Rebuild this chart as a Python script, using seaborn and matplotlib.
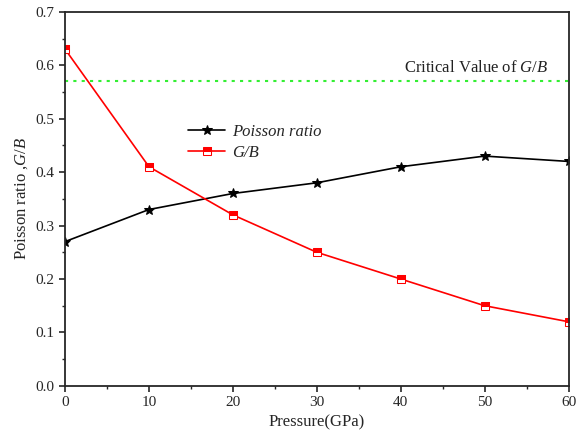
import numpy as np
import pandas as pd
import matplotlib
matplotlib.use('Agg')
import matplotlib.pyplot as plt
from matplotlib.ticker import MultipleLocator, FormatStrFormatter
import seaborn as sns

pressure = [0, 10, 20, 30, 40, 50, 60]
poisson = [0.27, 0.33, 0.36, 0.38, 0.41, 0.43, 0.42]
gb = [0.63, 0.41, 0.32, 0.25, 0.20, 0.15, 0.12]
critical = 0.57

df = pd.DataFrame({'Pressure': pressure, 'Poisson': poisson, 'GB': gb})

sns.set_style('ticks')
plt.rcParams['font.family'] = ['Liberation Serif', 'DejaVu Serif']
plt.rcParams['mathtext.fontset'] = 'custom'
plt.rcParams['mathtext.it'] = 'Liberation Serif:italic'
plt.rcParams['mathtext.rm'] = 'Liberation Serif'

fig, ax = plt.subplots(figsize=(5.76, 4.37), dpi=100)
fig.subplots_adjust(left=0.113, right=0.987, top=0.973, bottom=0.117)

sns.lineplot(data=df, x='Pressure', y='Poisson', ax=ax, color='black', lw=1.2,
             marker='*', markersize=7, markeredgecolor='black', label='Poisson ratio')
sns.lineplot(data=df, x='Pressure', y='GB', ax=ax, color='red', lw=1.2,
             marker='s', markersize=6, fillstyle='top', markerfacecolor='red',
             markerfacecoloralt='white', markeredgecolor='red', label='G/B')
ax.axhline(critical, color='#33ee33', ls=(0, (1.5, 2.5)), lw=1.5)
ax.text(57.6, 0.595, 'Critical Value of $\\it{G/B}$', ha='right', va='center',
        fontsize=12, color='#222222')

ax.set_xlim(0, 60)
ax.set_ylim(0, 0.7)
ax.xaxis.set_major_locator(MultipleLocator(10))
ax.xaxis.set_minor_locator(MultipleLocator(5))
ax.yaxis.set_major_locator(MultipleLocator(0.1))
ax.yaxis.set_minor_locator(MultipleLocator(0.05))
ax.yaxis.set_major_formatter(FormatStrFormatter('%.1f'))
ax.tick_params(which='major', direction='out', length=4, width=1.2, labelsize=11)
ax.tick_params(which='minor', direction='out', length=2.5, width=1)
for s in ax.spines.values():
    s.set_linewidth(1.3)

ax.set_xlabel('Pressure(GPa)', fontsize=12)
ax.set_ylabel('Poisson ratio ,$\\it{G/B}$', fontsize=12)

leg = ax.legend(loc='upper left', bbox_to_anchor=(0.215, 0.74), frameon=False,
                fontsize=12, handlelength=2.2, handletextpad=0.4, labelspacing=0.3)
for txt in leg.get_texts():
    txt.set_fontstyle('italic')

fig.savefig('out.png', dpi=100)
